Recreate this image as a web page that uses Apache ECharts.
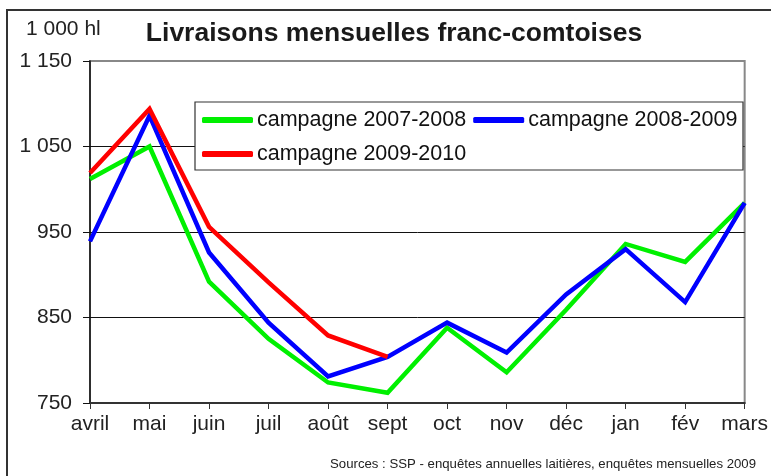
<!DOCTYPE html>
<html>
<head>
<meta charset="utf-8">
<script src="https://cdn.jsdelivr.net/npm/echarts@6/dist/echarts.min.js"></script>
<style>
  html, body { margin: 0; padding: 0; background: #fff; }
  #chart { width: 771px; height: 476px; }
</style>
</head>
<body>
<div id="chart"></div>
<script>
  // données (1 000 hl)
  var mois = ['avril', 'mai', 'juin', 'juil', 'août', 'sept', 'oct', 'nov', 'déc', 'jan', 'fév', 'mars'];
  var camp0708 = [1012, 1050, 892, 825, 774, 762, 838, 786, 859, 936, 915, 984];
  var camp0809 = [939, 1086, 926, 844, 781, 804, 844, 809, 877, 930, 868, 984];
  var camp0910 = [1019, 1094, 956, 891, 829, 804];
  var yTicks = [750, 850, 950, 1050, 1150];

  var police = 'Liberation Sans, Arial, sans-serif';

  function serie(nom, data, couleur) {
    return {
      name: nom,
      type: 'line',
      data: data,
      symbol: 'none',
      lineStyle: { width: 4.5, color: couleur, join: 'miter' },
      itemStyle: { color: couleur },
      emphasis: { disabled: true }
    };
  }

  var legendeCommune = {
    orient: 'horizontal',
    left: 202,
    padding: 0,
    itemWidth: 51,
    itemHeight: 6,
    itemGap: 7,
    icon: 'roundRect',
    textStyle: { fontFamily: police, fontSize: 21.5, color: '#111', padding: [0, 0, 0, -1] }
  };

  var chart = echarts.init(document.getElementById('chart'));
  chart.setOption({
    animation: false,
    backgroundColor: '#fff',
    grid: {
      left: 90, right: 24, top: 61, bottom: 73,
      show: true, borderColor: '#888', borderWidth: 2
    },
    legend: [
      Object.assign({}, legendeCommune, { top: 109, data: ['campagne 2007-2008', 'campagne 2008-2009'] }),
      Object.assign({}, legendeCommune, { top: 143, data: ['campagne 2009-2010'] })
    ],
    xAxis: {
      type: 'category',
      data: mois,
      boundaryGap: false,
      axisLine: { lineStyle: { color: '#333', width: 2 } },
      axisTick: { show: true, length: 6, lineStyle: { color: '#333' } },
      axisLabel: { fontFamily: police, fontSize: 21, color: '#222', margin: 11, interval: 0 },
      splitLine: { show: false }
    },
    yAxis: {
      type: 'value',
      min: yTicks[0],
      max: yTicks[yTicks.length - 1],
      interval: 100,
      axisLine: { show: true, lineStyle: { color: '#111', width: 1.5 } },
      axisTick: { show: true, length: 7, lineStyle: { color: '#111' } },
      axisLabel: {
        fontFamily: police, fontSize: 21, color: '#222', margin: 18,
        formatter: function (v) { return String(v).replace(/\B(?=(\d{3})+(?!\d))/g, ' '); }
      },
      splitLine: { show: true, showMinLine: false, showMaxLine: false, lineStyle: { color: '#111', width: 1 } }
    },
    series: [
      serie('campagne 2007-2008', camp0708, '#00f000'),
      serie('campagne 2008-2009', camp0809, '#0000ff'),
      serie('campagne 2009-2010', camp0910, '#ff0000')
    ],
    graphic: [
      // cadre extérieur
      { type: 'rect', shape: { x: 7, y: 10, width: 800, height: 500 },
        style: { fill: 'none', stroke: '#333', lineWidth: 2 }, z: 100 },
      // cadre de la légende, au-dessus du quadrillage
      { type: 'rect', shape: { x: 195, y: 102, width: 548, height: 68 },
        style: { fill: '#fff', stroke: '#333', lineWidth: 1.2 }, z: 3 },
      { type: 'text', left: 26, top: 19,
        style: { text: '1 000 hl', fontFamily: police, fontSize: 21, fill: '#222' } },
      { type: 'text', x: 394, y: 34,
        style: { text: 'Livraisons mensuelles franc-comtoises', fontFamily: police, fontSize: 26.5,
                 fontWeight: 'bold', fill: '#1a1a1a', align: 'center', verticalAlign: 'middle' } },
      { type: 'text', x: 756, y: 464,
        style: { text: 'Sources : SSP - enquêtes annuelles laitières, enquêtes mensuelles 2009',
                 fontFamily: police, fontSize: 13.2, fill: '#222', align: 'right', verticalAlign: 'middle' } }
    ]
  });
</script>
</body>
</html>
